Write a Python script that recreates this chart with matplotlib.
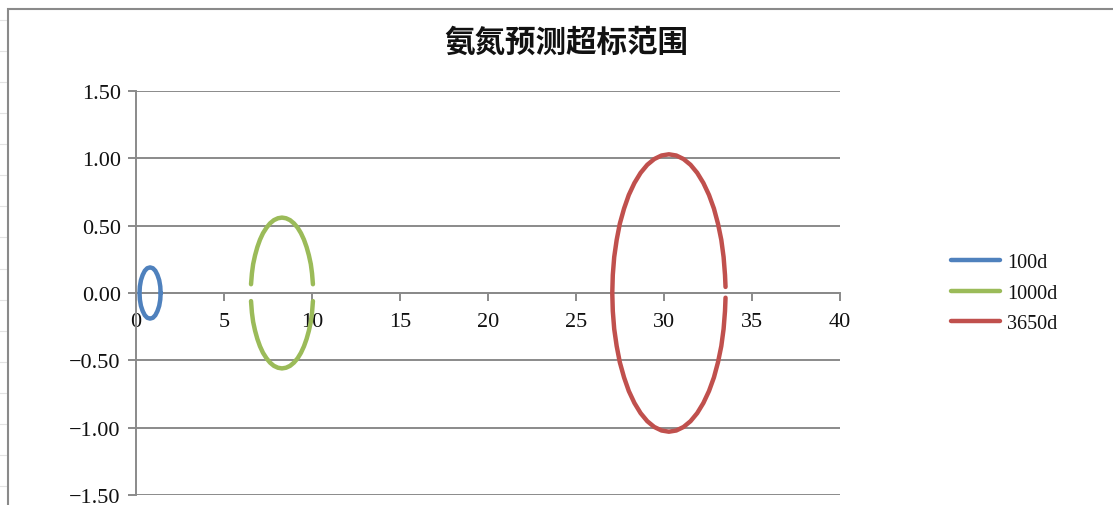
import numpy as np
import matplotlib
matplotlib.use("Agg")
import matplotlib.pyplot as plt
from matplotlib.lines import Line2D

# ---- data ---------------------------------------------------------------
title_text = "氨氮预测超标范围"
series_names = ["100d", "1000d", "3650d"]
series_colors = ["#4F81BD", "#9BBB59", "#C0504D"]

# 100d outline (closed loop)
x_100d = [1.40, 1.38, 1.32, 1.22, 1.10, 0.96, 0.80, 0.64, 0.50, 0.38, 0.28, 0.22, 0.20,
          0.22, 0.28, 0.38, 0.50, 0.64, 0.80, 0.96, 1.10, 1.22, 1.32, 1.38, 1.40]
y_100d = [0.0, 0.049, 0.095, 0.134, 0.165, 0.184, 0.19, 0.184, 0.165, 0.134, 0.095, 0.049, 0.0,
          -0.049, -0.095, -0.134, -0.165, -0.184, -0.19, -0.184, -0.165, -0.134, -0.095, -0.049, 0.0]

# 1000d outline: upper half (right to left), break, lower half (left to right)
x_1000d = [10.06, 10.01, 9.94, 9.83, 9.70, 9.55, 9.38, 9.19, 8.98, 8.76, 8.53, 8.30,
           8.07, 7.84, 7.62, 7.42, 7.22, 7.05, 6.90, 6.77, 6.66, 6.59, 6.54,
           np.nan,
           6.54, 6.59, 6.66, 6.77, 6.90, 7.05, 7.22, 7.42, 7.62, 7.84, 8.07, 8.30,
           8.53, 8.76, 8.98, 9.19, 9.38, 9.55, 9.70, 9.83, 9.94, 10.01, 10.06]
y_1000d = [0.065, 0.145, 0.214, 0.28, 0.341, 0.396, 0.444, 0.485, 0.517, 0.541, 0.555, 0.56,
           0.555, 0.541, 0.517, 0.485, 0.444, 0.396, 0.341, 0.28, 0.214, 0.145, 0.065,
           np.nan,
           -0.06, -0.145, -0.214, -0.28, -0.341, -0.396, -0.444, -0.485, -0.517, -0.541, -0.555, -0.56,
           -0.555, -0.541, -0.517, -0.485, -0.444, -0.396, -0.341, -0.28, -0.214, -0.145, -0.06]

# 3650d outline: upper half from the right, round the left end, lower half
x_3650d = [33.52, 33.49, 33.41, 33.28, 33.09, 32.86, 32.58, 32.26, 31.91, 31.53, 31.13, 30.72,
           30.30, 29.88, 29.47, 29.07, 28.69, 28.34, 28.02, 27.75, 27.51, 27.33, 27.19, 27.11,
           27.08,
           27.11, 27.19, 27.33, 27.51, 27.75, 28.02, 28.34, 28.69, 29.07, 29.47, 29.88, 30.30,
           30.72, 31.13, 31.53, 31.91, 32.26, 32.58, 32.86, 33.09, 33.28, 33.41, 33.49, 33.52]
y_3650d = [0.045, 0.134, 0.267, 0.394, 0.515, 0.627, 0.728, 0.817, 0.892, 0.952, 0.995, 1.021,
           1.03, 1.021, 0.995, 0.952, 0.892, 0.817, 0.728, 0.627, 0.515, 0.394, 0.267, 0.134,
           0.0,
           -0.134, -0.267, -0.394, -0.515, -0.627, -0.728, -0.817, -0.892, -0.952, -0.995, -1.021, -1.03,
           -1.021, -0.995, -0.952, -0.892, -0.817, -0.728, -0.627, -0.515, -0.394, -0.267, -0.134, -0.035]

x_ticks = [0, 5, 10, 15, 20, 25, 30, 35, 40]
y_ticks = [-1.5, -1.0, -0.5, 0.0, 0.5, 1.0, 1.5]

# ---- figure -------------------------------------------------------------
W, H = 1113, 506
DPI = 100
fig = plt.figure(figsize=(W / DPI, H / DPI), dpi=DPI)
fig.patch.set_facecolor("white")

# spreadsheet row lines peeking out on the left
for i in range(16):
    yy = 21 + i * 31.07
    fig.add_artist(Line2D([0, 7 / W], [1 - yy / H] * 2, color="#e3e3e3", lw=0.8))

# chart area border
fig.add_artist(Line2D([8 / W, 8 / W, 1.0], [0.0, 1 - 10 / H, 1 - 10 / H],
                      color="#8a8a8a", lw=1.5, solid_joinstyle="miter"))

left, right = 136, 839.5
top, bottom = 92, 496
ax = fig.add_axes([left / W, 1 - bottom / H, (right - left) / W, (bottom - top) / H])
ax.set_facecolor("none")

grid_color = "#8a8a8a"
ax.set_xlim(0, 40)
ax.set_ylim(-1.5, 1.5)
ax.set_yticks(y_ticks)
ax.set_xticks(x_ticks)
ax.set_yticklabels([f"{v:.2f}".replace("-", "\u2212") for v in y_ticks])
ax.set_xticklabels([str(v) for v in x_ticks])

for yv in y_ticks:
    ax.axhline(yv, color=grid_color, lw=1.4, zorder=1)

for s in ["top", "right"]:
    ax.spines[s].set_visible(False)
ax.spines["left"].set_position(("data", 0))
ax.spines["bottom"].set_position(("data", 0))
for s in ["left", "bottom"]:
    ax.spines[s].set_color(grid_color)
    ax.spines[s].set_linewidth(1.4)

ax.tick_params(axis="y", direction="out", length=6, width=1.4, color=grid_color,
               pad=5, labelcolor="#111111")
ax.tick_params(axis="x", direction="out", length=6, width=1.4, color=grid_color,
               pad=8, labelcolor="#111111")
for lab in ax.get_xticklabels() + ax.get_yticklabels():
    lab.set_fontfamily("Liberation Serif")
    lab.set_fontsize(16)

series_x = [x_100d, x_1000d, x_3650d]
series_y = [y_100d, y_1000d, y_3650d]
for name, col, xs, ys in zip(series_names, series_colors, series_x, series_y):
    ax.plot(xs, ys, color=col, lw=3.2, solid_capstyle="round",
            solid_joinstyle="round", label=name, zorder=3, clip_on=False)

handles, labels = ax.get_legend_handles_labels()
leg = fig.legend(handles, labels, loc="center left",
                 bbox_to_anchor=(951 / W, 1 - 294 / H),
                 frameon=False, borderpad=0, borderaxespad=0,
                 handlelength=2.45, handletextpad=0.35, labelspacing=0.55,
                 prop=dict(family="Liberation Serif", size=14.5))
for t in leg.get_texts():
    t.set_color("#111111")

fig.text(566 / W, 1 - 43 / H, title_text, ha="center", va="center",
         fontsize=22, fontweight="bold",
         family=["Noto Sans CJK SC", "DejaVu Sans"], color="#111111")

fig.savefig("out.png", dpi=DPI, facecolor="white")
